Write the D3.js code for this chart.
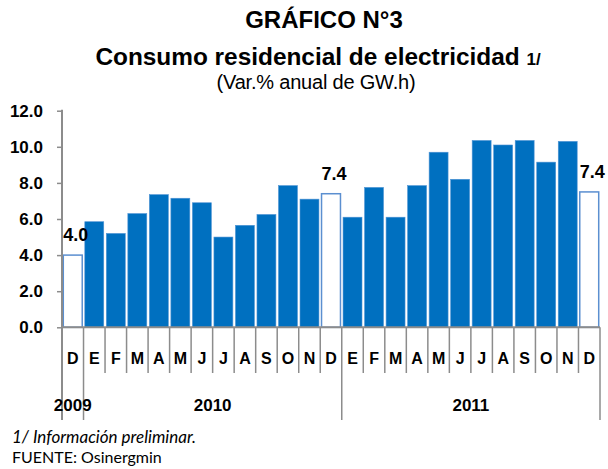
<!DOCTYPE html>
<html lang="es">
<head>
  <meta charset="UTF-8">
  <title>Consumo residencial de electricidad</title>
  <script src="https://d3js.org/d3.v7.min.js"></script>
  <style>
    body {
      margin: 0;
      background: white;
      font-family: "Liberation Sans", Arial, sans-serif;
    }
    .note {
      font-family: Lato, "Open Sans", sans-serif;
    }
  </style>
</head>
<body>
  <svg width="608" height="469"></svg>
  <script>
    // months (Dec 2009 .. Dec 2011)
    const months = ["D", "E", "F", "M", "A", "M", "J", "J", "A", "S", "O", "N", "D",
                    "E", "F", "M", "A", "M", "J", "J", "A", "S", "O", "N", "D"];
    const values = [4.0, 5.85, 5.2, 6.3, 7.35, 7.15, 6.9, 5.0, 5.65, 6.25, 7.85, 7.1, 7.4,
                    6.1, 7.75, 6.1, 7.85, 9.7, 8.2, 10.35, 10.1, 10.35, 9.15, 10.3, 7.5];
    const hollow = [0, 12, 24];          // December bars drawn empty
    const labelled = [[0, "4.0"], [12, "7.4"], [24, "7.4"]];
    const years = [["2009", 0, 1], ["2010", 1, 13], ["2011", 13, 25]];
    const yTicks = [0, 2, 4, 6, 8, 10, 12];

    const svg = d3.select("svg");
    const plotL = 62, plotR = 600, plotT = 110.7, plotB = 327.3;
    const gray = "#8c8c8c";

    const idx = d3.range(months.length);
    const x = d3.scaleBand().domain(idx).range([plotL, plotR]).paddingInner(0.12).paddingOuter(0.06);
    const edge = i => plotL + i * (plotR - plotL) / months.length;
    const y = d3.scaleLinear().domain([0, 12]).range([plotB, plotT]);

    // titles
    svg.append("text").attr("x", 324).attr("y", 28).attr("text-anchor", "middle")
      .attr("font-size", 24).attr("font-weight", "bold").text("GRÁFICO N°3");
    const t2 = svg.append("text").attr("x", 318).attr("y", 65).attr("text-anchor", "middle")
      .attr("font-size", 24.4).attr("font-weight", "bold");
    t2.append("tspan").text("Consumo residencial de electricidad ");
    t2.append("tspan").attr("font-size", 17).text("1/");
    svg.append("text").attr("x", 316).attr("y", 89).attr("text-anchor", "middle")
      .attr("font-size", 20).attr("letter-spacing", -0.2).text("(Var.% anual de GW.h)");

    // bars
    svg.selectAll(".bar").data(values).enter().append("rect")
      .attr("class", "bar")
      .attr("x", (d, i) => x(i))
      .attr("y", d => y(d))
      .attr("width", x.bandwidth())
      .attr("height", d => y(0) - y(d))
      .attr("fill", (d, i) => hollow.includes(i) ? "white" : "#0070c0")
      .attr("stroke", (d, i) => hollow.includes(i) ? "#5b8fd0" : "#4f93d4")
      .attr("stroke-width", (d, i) => hollow.includes(i) ? 1.5 : 0.6);

    // value labels
    svg.selectAll(".lab").data(labelled).enter().append("text")
      .attr("class", "lab")
      .attr("x", d => x(d[0]) + x.bandwidth() / 2 + 3)
      .attr("y", d => y(values[d[0]]) - 14)
      .attr("text-anchor", "middle")
      .attr("font-size", 18).attr("font-weight", "bold")
      .text(d => d[1]);

    // y axis
    const yAxis = svg.append("g").attr("transform", `translate(${plotL},0)`)
      .call(d3.axisLeft(y).tickValues(yTicks).tickFormat(d3.format(".1f")).tickSize(5).tickPadding(14));
    yAxis.select(".domain").remove();
    yAxis.selectAll("line").attr("stroke", gray).attr("stroke-width", 1.5);
    yAxis.selectAll("text").attr("font-size", 17).attr("font-weight", "bold")
      .attr("font-family", "Liberation Sans, Arial, sans-serif").attr("fill", "black");
    svg.append("line").attr("x1", plotL).attr("x2", plotL).attr("y1", plotT - 1).attr("y2", 420)
      .attr("stroke", gray).attr("stroke-width", 2);

    // x axis line, month dividers, year dividers
    svg.append("line").attr("x1", plotL).attr("x2", plotR).attr("y1", plotB).attr("y2", plotB)
      .attr("stroke", gray).attr("stroke-width", 2);
    const yearEdges = years.map(d => d[1]).concat([months.length]);
    svg.selectAll(".div").data(d3.range(1, months.length + 1)).enter().append("line")
      .attr("class", "div")
      .attr("x1", i => edge(i)).attr("x2", i => edge(i))
      .attr("y1", plotB).attr("y2", i => yearEdges.includes(i) ? 420 : 373)
      .attr("stroke", gray).attr("stroke-width", 1.5);

    svg.selectAll(".mon").data(months).enter().append("text")
      .attr("class", "mon")
      .attr("x", (d, i) => edge(i) + (edge(i + 1) - edge(i)) / 2)
      .attr("y", 364)
      .attr("text-anchor", "middle")
      .attr("font-size", 16).attr("font-weight", "bold")
      .text(d => d);

    svg.selectAll(".yr").data(years).enter().append("text")
      .attr("class", "yr")
      .attr("x", d => (edge(d[1]) + edge(d[2])) / 2)
      .attr("y", 411)
      .attr("text-anchor", "middle")
      .attr("font-size", 17).attr("font-weight", "bold")
      .text(d => d[0]);

    // notes
    svg.append("text").attr("class", "note").attr("x", 12).attr("y", 443)
      .attr("font-size", 17).attr("font-style", "italic")
      .text("1/ Información preliminar.");
    svg.append("text").attr("class", "note").attr("x", 12).attr("y", 463)
      .attr("font-size", 16).text("FUENTE: Osinergmin");
  </script>
</body>
</html>
